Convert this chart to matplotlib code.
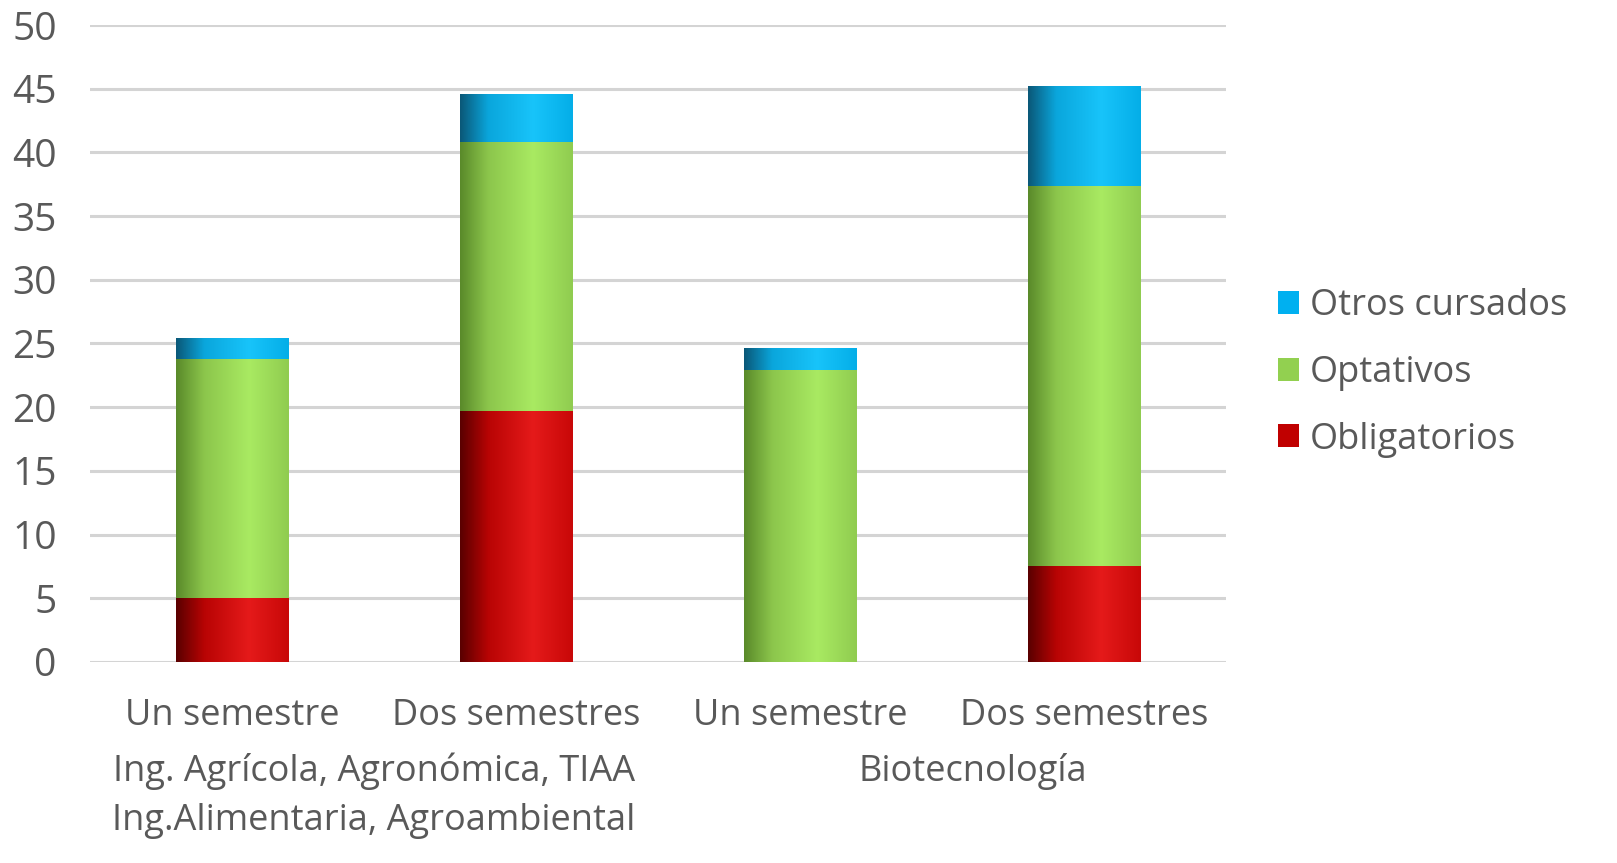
import numpy as np
import matplotlib.pyplot as plt
from matplotlib.colors import LinearSegmentedColormap

plt.rcParams['font.family'] = ['Open Sans', 'DejaVu Sans']

categories = ["Un semestre", "Dos semestres", "Un semestre", "Dos semestres"]
groups = ["Ing. Agrícola, Agronómica, TIAA\nIng.Alimentaria, Agroambiental", "Biotecnología"]
obligatorios = [5.0, 19.7, 0.0, 7.5]
optativos = [18.8, 21.1, 22.9, 29.9]
otros = [1.6, 3.7, 1.7, 7.8]

series = [
    ("Obligatorios", obligatorios, "#c00000", ["#5a0000", "#b80404", "#e51a1a", "#c80808"]),
    ("Optativos", optativos, "#92d050", ["#5a8a2a", "#8cc64c", "#a9ea62", "#90cc50"]),
    ("Otros cursados", otros, "#00b0f0", ["#0a5878", "#0aa6dc", "#18c4fa", "#04aee8"]),
]

fig = plt.figure(figsize=(16.17, 8.63), dpi=100)
ax = fig.add_axes([0.0557, 0.233, 0.7023, 0.738])

x = np.arange(len(categories))
width = 0.395
bottom = np.zeros(len(categories))
grad = np.linspace(0, 1, 200)[np.newaxis, :]
handles = []
for name, vals, col, shades in series:
    bars = ax.bar(x, vals, width, bottom=bottom, color=col, label=name, zorder=2)
    cmap = LinearSegmentedColormap.from_list(name, list(zip([0, 0.25, 0.65, 1], shades)))
    for b in bars:
        if b.get_height() <= 0:
            continue
        ax.imshow(grad, cmap=cmap, aspect='auto', zorder=3,
                  extent=[b.get_x(), b.get_x() + b.get_width(), b.get_y(), b.get_y() + b.get_height()])
    handles.append(bars)
    bottom += np.array(vals)

ax.set_xlim(-0.5, len(categories) - 0.5)
ax.set_ylim(0, 50)
ax.set_yticks(range(0, 51, 5))
ax.yaxis.grid(True, color="#d4d4d4", linewidth=2.2, zorder=1)
ax.set_axisbelow(True)
for s in ax.spines.values():
    s.set_visible(False)
ax.tick_params(axis='y', length=0, labelsize=28, labelcolor="#595959", pad=24)
ax.tick_params(axis='x', length=0, labelsize=26, labelcolor="#595959", pad=26)
ax.set_xticks(x)
ax.set_xticklabels(categories)

ax.text(0.5, -0.143, groups[0], transform=ax.get_xaxis_transform(), ha='center', va='top',
        fontsize=26, color="#595959", linespacing=1.47)
ax.text(2.61, -0.143, groups[1], transform=ax.get_xaxis_transform(), ha='center', va='top',
        fontsize=26, color="#595959")

leg = fig.legend(handles[::-1], [s[0] for s in series][::-1], loc='center left',
                 bbox_to_anchor=(0.77, 0.568), frameon=False, fontsize=26,
                 handlelength=0.6, handleheight=0.6, handletextpad=0.3, labelspacing=0.85)
for t in leg.get_texts():
    t.set_color("#595959")

fig.savefig("out.png", dpi=100)
